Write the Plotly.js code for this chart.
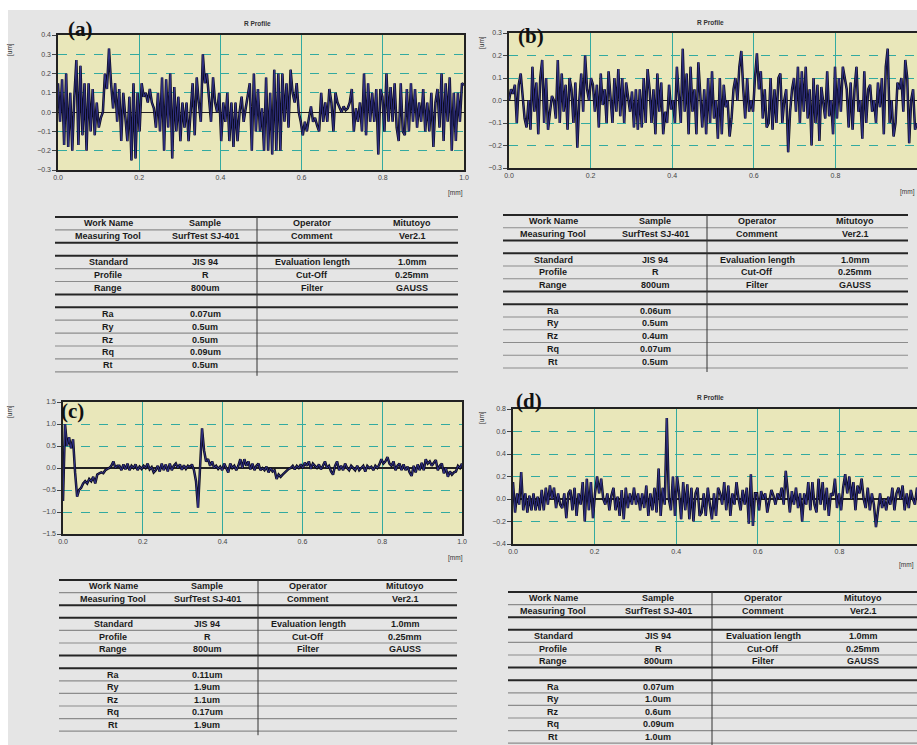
<!DOCTYPE html>
<html>
<head>
<meta charset="utf-8">
<script src="https://cdn.plot.ly/plotly-3.0.1.min.js"></script>
<style>html,body{margin:0;padding:0;background:#fff;}#chart{width:917px;height:745px;}</style>
</head>
<body>
<div id="chart"></div>
<script>
// ---------------- DATA ----------------
const EVAL_LENGTH = 1.0; // mm
const xTickVals = [0, 0.2, 0.4, 0.6, 0.8, 1.0];

const profileA = [0.15,-0.05,0.17,-0.17,0.2,-0.18,0.1,-0.2,0.08,0.27,-0.17,0.24,-0.12,0.15,-0.2,0.15,-0.1,0.12,-0.12,0.05,-0.08,
-0.03,0.0,0.2,0.12,0.33,0.15,0.02,0.15,-0.05,0.12,-0.15,0.1,-0.05,-0.15,0.08,-0.25,0.15,-0.24,0.1,-0.1,
0.15,0.08,0.1,0.05,0.12,0.05,0.02,-0.08,0.1,-0.1,0.18,-0.2,0.17,-0.08,0.2,-0.24,0.13,-0.1,
0.08,-0.15,0.05,-0.08,0.05,-0.15,0.0,0.15,-0.12,0.18,0.05,-0.05,0.3,0.15,0.2,0.05,-0.05,0.18,0.05,0.0,
0.1,-0.15,0.05,-0.05,0.1,-0.15,0.05,-0.18,0.05,-0.15,0.0,0.08,-0.05,0.02,0.08,
0.15,-0.2,0.2,-0.1,0.12,-0.1,0.02,-0.2,0.18,-0.2,0.1,-0.22,0.22,-0.2,0.2,-0.2,0.2,-0.05,0.15,-0.08,
0.22,0.1,0.05,0.15,0.0,-0.05,-0.12,-0.05,-0.1,-0.03,
0.03,-0.05,-0.03,-0.07,-0.1,0.1,-0.05,0.05,-0.05,0.12,
0.05,-0.1,0.1,0.05,0.02,0.0,0.03,0.01,0.02,0.05,0.12,-0.1,0.02,
-0.05,0.05,-0.1,0.2,-0.12,0.15,-0.05,0.1,-0.05,0.12,-0.22,0.12,0.08,-0.1,0.2,-0.05,0.13,
-0.05,0.15,-0.08,-0.15,0.15,-0.1,-0.12,0.12,-0.1,0.15,-0.05,0.12,-0.08,0.05,-0.05,0.12,
-0.1,0.05,-0.1,0.1,-0.18,0.05,0.12,-0.08,0.2,-0.15,0.15,-0.05,0.18,-0.2,0.1,-0.15,0.1,-0.05,0.15,0.14];

const profileB = [0.0,0.05,0.03,0.07,-0.1,0.07,0.12,0.0,-0.08,-0.12,0.0,-0.13,0.15,-0.05,0.08,-0.15,0.1,0.18,-0.1,0.1,-0.13,
-0.05,0.02,0.0,-0.08,0.18,-0.1,0.12,-0.05,0.07,-0.13,0.1,0.05,-0.1,0.08,-0.21,0.0,
0.12,-0.05,0.2,0.05,0.0,0.1,0.07,-0.05,0.07,-0.12,0.12,-0.02,0.05,-0.1,0.13,0.0,
-0.1,0.1,-0.05,0.14,-0.07,0.1,-0.1,0.08,0.0,-0.05,0.04,-0.12,0.05,-0.13,
0.05,-0.12,0.1,-0.1,0.14,0.05,-0.1,0.05,-0.15,0.12,-0.05,0.08,-0.15,
-0.05,-0.1,0.07,-0.04,0.0,-0.1,0.15,0.02,-0.1,0.23,-0.05,0.12,-0.15,0.15,-0.05,0.05,-0.15,0.17,0.0,-0.12,0.05,
-0.15,0.1,-0.1,0.13,-0.08,0.0,-0.17,0.1,-0.15,0.07,-0.03,0.0,-0.16,-0.08,0.05,0.1,
0.0,0.15,0.22,0.05,-0.08,0.1,-0.05,0.0,-0.05,0.1,0.21,0.05,0.13,-0.08,0.05,-0.12,-0.1,0.1,-0.13,0.05,-0.1,
0.1,0.12,-0.1,0.0,0.05,-0.23,-0.05,0.05,0.1,-0.05,0.15,-0.1,0.13,-0.05,0.15,-0.08,0.05,-0.2,
0.1,-0.1,0.07,-0.18,0.06,0.0,-0.08,0.13,-0.07,0.0,-0.15,0.15,-0.08,0.1,-0.05,
0.15,0.1,0.05,-0.12,0.08,-0.13,0.05,0.15,-0.05,0.0,-0.17,0.13,-0.1,0.05,0.07,
-0.05,0.0,-0.1,0.08,-0.03,0.1,-0.15,0.15,0.23,-0.1,0.0,-0.16,-0.1,0.08,0.05,0.1,-0.05,0.18,0.1,-0.19,0.0,0.05,-0.13,-0.1];

const profileC = [-0.75,1.0,0.5,0.7,0.45,0.65,-0.1,-0.65,-0.5,-0.45,-0.35,-0.3,-0.35,-0.25,-0.3,-0.2,-0.35,-0.15,-0.12,-0.1,-0.12,-0.05,-0.02,0.0,0.05,0.15,0.0,0.05,
0.05,-0.05,0.08,-0.03,0.1,-0.05,0.05,0.0,0.08,-0.05,0.03,-0.02,0.05,0.0,0.1,-0.03,0.02,-0.1,-0.05,0.05,-0.08,0.1,-0.05,0.08,-0.08,0.1,-0.05,0.05,0.1,0.0,0.08,-0.04,0.06,-0.02,0.05,0.02,0.08,-0.05,
-0.3,-0.9,0.0,0.9,0.4,
0.15,0.2,0.05,0.15,0.0,0.05,-0.02,0.03,-0.05,0.1,0.0,-0.1,0.1,0.0,0.05,-0.05,0.05,0.2,0.0,0.2,0.05,0.15,-0.03,0.1,-0.05,0.05,0.1,-0.05,0.0,-0.05,0.03,-0.1,0.0,-0.08,-0.05,-0.25,-0.15,-0.2,-0.15,-0.1,-0.05,-0.02,0.0,0.05,-0.03,0.05,0.0,
0.08,0.0,0.12,0.05,0.15,-0.02,0.1,0.05,0.0,0.08,-0.03,0.05,0.15,0.0,0.05,-0.08,-0.15,0.05,0.15,-0.05,0.05,-0.05,0.1,0.0,-0.05,0.05,0.0,-0.05,0.05,-0.05,0.0,0.05,-0.08,0.05,0.0,0.03,-0.05,0.05,0.0,0.08,
0.2,0.1,0.15,0.25,0.1,0.05,0.15,-0.05,0.05,0.1,-0.05,0.08,-0.05,0.03,-0.1,-0.18,0.05,-0.1,0.08,-0.05,0.12,-0.05,0.2,0.1,0.15,0.05,0.12,0.18,-0.05,0.05,0.1,-0.12,0.0,-0.2,-0.08,-0.15,-0.1,-0.08,0.05,0.0,0.1];

const profileD = [0.15,-0.12,0.05,-0.05,0.24,-0.1,0.05,-0.12,0.03,-0.1,0.05,-0.1,0.02,-0.1,0.08,-0.1,0.1,-0.05,0.12,0.0,
0.1,-0.08,0.05,-0.05,-0.08,0.05,-0.17,0.05,0.08,-0.1,0.1,-0.15,0.05,-0.05,0.15,-0.2,0.18,-0.1,0.15,-0.17,
0.05,0.2,0.05,0.18,0.0,-0.05,0.05,-0.1,0.03,0.1,-0.1,0.02,-0.15,0.08,-0.18,0.1,-0.08,0.05,-0.05,0.1,
-0.05,0.05,-0.1,0.05,-0.08,0.12,-0.15,0.05,-0.1,0.1,-0.12,0.27,-0.15,0.1,-0.05,0.72,0.0,
-0.1,0.2,-0.15,0.2,0.05,-0.18,0.15,-0.1,0.13,-0.18,0.1,-0.2,0.05,0.1,-0.15,-0.12,
0.05,-0.15,0.1,-0.05,-0.18,0.05,-0.15,0.1,0.05,-0.05,0.15,-0.1,0.12,-0.15,0.05,-0.05,0.15,0.0,-0.1,0.08,-0.05,0.1,-0.22,0.22,-0.24,0.05,
0.05,-0.1,0.07,0.0,0.05,-0.12,0.0,0.08,0.03,-0.05,0.05,0.0,0.1,-0.05,0.25,0.05,-0.12,0.07,-0.05,0.1,-0.08,0.05,-0.2,
0.05,-0.05,0.15,-0.1,0.15,-0.05,-0.12,0.18,-0.05,0.15,-0.1,0.1,-0.15,0.05,0.03,0.18,-0.08,0.05,-0.1,0.1,
0.22,0.05,0.2,0.0,0.15,-0.1,0.12,0.05,0.18,0.0,-0.08,0.1,-0.1,0.05,-0.05,-0.25,-0.1,0.05,-0.08,0.0,-0.1,0.02,-0.05,0.1,-0.1,0.05,0.1,0.0,0.12,-0.1,0.05,-0.08,0.08,0.0,-0.05,0.1,-0.03,0.05];

const panelLabels = ['(a)', '(b)', '(c)', '(d)'];
const chartTitle = 'R Profile';
const yUnit = '[um]';
const xUnit = '[mm]';

const headerRows = [['Work Name','Sample','Operator','Mitutoyo'],['Measuring Tool','SurfTest SJ-401','Comment','Ver2.1']];
const conditionRows = [['Standard','JIS 94','Evaluation length','1.0mm'],['Profile','R','Cut-Off','0.25mm'],['Range','800um','Filter','GAUSS']];
const paramNames = ['Ra','Ry','Rz','Rq','Rt'];
const paramA = ['0.07um','0.5um','0.5um','0.09um','0.5um'];
const paramB = ['0.06um','0.5um','0.4um','0.07um','0.5um'];
const paramC = ['0.11um','1.9um','1.1um','0.17um','1.9um'];
const paramD = ['0.07um','1.0um','0.6um','0.09um','1.0um'];

// ---------------- LAYOUT HELPERS ----------------
const W = 917, H = 745;
const px = v => v / W;
const py = v => 1 - v / H;

function xs(arr){ return arr.map((_, i) => i * EVAL_LENGTH / (arr.length - 1)); }

const traces = [];
const profiles = [profileA, profileB, profileC, profileD];
profiles.forEach((p, k) => {
  const xa = k === 0 ? 'x' : 'x' + (k + 1);
  const ya = k === 0 ? 'y' : 'y' + (k + 1);
  traces.push({x: xs(p), y: p, xaxis: xa, yaxis: ya, type: 'scatter', mode: 'lines',
    line: {color: '#0b0b1e', width: 2.5}, hoverinfo: 'skip'});
  traces.push({x: xs(p), y: p, xaxis: xa, yaxis: ya, type: 'scatter', mode: 'lines',
    line: {color: '#3a3aa0', width: 0.8}, hoverinfo: 'skip'});
});

const tickFont = {family: 'Arial, Liberation Sans', size: 7, color: '#444'};
function xAxis(l, r, anchor, range){
  return {domain: [px(l), r >= W ? 1 : px(r)], anchor: anchor, range: range, tickvals: xTickVals,
    tickformat: '.1f', showgrid: true, gridcolor: '#33aaa0', gridwidth: 1, griddash: 'solid',
    showline: true, mirror: true, linecolor: '#222', linewidth: 1.6, ticks: '', zeroline: false,
    tickfont: tickFont, fixedrange: true, layer: 'below traces'};
}
function yAxis(top, bottom, anchor, range, dtick){
  return {domain: [py(bottom), py(top)], anchor: anchor, range: range, dtick: dtick, tick0: 0,
    tickformat: '.1f', showgrid: true, gridcolor: '#33aaa0', gridwidth: 1, griddash: 'dash',
    showline: true, mirror: true, linecolor: '#222', linewidth: 1.6, ticks: 'outside', ticklen: 4,
    tickcolor: '#444', zeroline: true, zerolinecolor: '#222', zerolinewidth: 1.2,
    tickfont: tickFont, fixedrange: true};
}

const annotations = [];
const shapes = [];
function ann(x, y, text, opts){
  annotations.push(Object.assign({xref: 'paper', yref: 'paper', x: px(x), y: py(y), text: text,
    showarrow: false, xanchor: 'center', yanchor: 'middle',
    font: {family: 'Arial, Liberation Sans', size: 7, color: '#333'}}, opts || {}));
}

// panel decorations
const panelDeco = [
  {label: [80, 29], title: [257, 24], um: [10, 50], mm: [455, 193]},
  {label: [531, 36], title: [710, 22], um: [482, 43], mm: [907, 192]},
  {label: [72, 411], title: null, um: [10, 412], mm: [455, 558]},
  {label: [529, 401], title: [710, 397], um: [482, 418], mm: [916, 565]}
];
panelDeco.forEach((d, k) => {
  ann(d.label[0], d.label[1], '<b>' + panelLabels[k] + '</b>',
    {font: {family: 'Liberation Serif, Times New Roman, serif', size: 21, color: '#111'}});
  if (d.title) ann(d.title[0], d.title[1], '<b>' + chartTitle + '</b>', {font: {family: 'Arial, Liberation Sans', size: 6.5, color: '#333'}});
  ann(d.um[0], d.um[1], yUnit, {textangle: -90, font: {family: 'Arial, Liberation Sans', size: 6.5, color: '#333'}});
  ann(d.mm[0], d.mm[1], xUnit, {xanchor: k === 3 ? 'right' : 'center', font: {family: 'Arial, Liberation Sans', size: 6.5, color: '#333'}});
});

// tables
const tableCfg = [
  {left: 55, right: 458, top: 217, pitch: 12.9, cols: [108, 205, 312, 412], vx: 257, params: paramA},
  {left: 503, right: 908, top: 215, pitch: 12.75, cols: [553, 655, 757, 855], vx: 707, params: paramB},
  {left: 59, right: 457, top: 580, pitch: 12.6, cols: [113, 207, 308, 405], vx: 258, params: paramC},
  {left: 508, right: 917, top: 592, pitch: 12.6, cols: [553, 658, 763, 863], vx: 712, params: paramD}
];
const tFont = {family: 'Arial, Liberation Sans', size: 9, color: '#1a1a1a', weight: 'bold'};
function hline(x0, x1, y, thick){
  shapes.push({type: 'line', xref: 'paper', yref: 'paper', x0: px(x0), x1: px(x1), y0: py(y), y1: py(y),
    line: {color: thick ? '#262626' : '#8c8c8c', width: thick ? 2 : 1.2}});
}
tableCfg.forEach(t => {
  const p = t.pitch, T = t.top;
  const thick = [0, 2, 3, 6, 7];
  for (let i = 0; i <= 12; i++) {
    if (i === 1 || i === 4 || i === 5 || i >= 8 || thick.includes(i)) hline(t.left, t.right, T + i * p, thick.includes(i));
  }
  shapes.push({type: 'line', xref: 'paper', yref: 'paper', x0: px(t.vx), x1: px(t.vx), y0: py(T), y1: py(T + 12 * p + 4),
    line: {color: '#333', width: 1}});
  headerRows.forEach((row, r) => row.forEach((txt, c) => ann(t.cols[c], T + (r + 0.5) * p, txt, {font: tFont})));
  conditionRows.forEach((row, r) => row.forEach((txt, c) => ann(t.cols[c], T + (3 + r + 0.5) * p, txt, {font: tFont})));
  paramNames.forEach((nm, r) => {
    ann(t.cols[0], T + (7 + r + 0.5) * p, nm, {font: tFont});
    ann(t.cols[1], T + (7 + r + 0.5) * p, t.params[r], {font: tFont});
  });
});

// white page margins of the scanned figure
shapes.push({type: 'rect', xref: 'paper', yref: 'paper', x0: 0, x1: 1, y0: py(10), y1: 1, fillcolor: '#ffffff', line: {width: 0}, layer: 'below'});
shapes.push({type: 'rect', xref: 'paper', yref: 'paper', x0: 0, x1: px(8), y0: 0, y1: 1, fillcolor: '#ffffff', line: {width: 0}, layer: 'below'});

const layout = {
  width: W, height: H, margin: {l: 0, r: 0, t: 0, b: 0},
  paper_bgcolor: '#e5e5e5', plot_bgcolor: '#e9e7ba', showlegend: false,
  xaxis: xAxis(58, 464, 'y', [0, 1]),
  yaxis: yAxis(35, 170, 'x', [-0.3, 0.4], 0.1),
  xaxis2: xAxis(509, W, 'y2', [0, 1]),
  yaxis2: yAxis(33, 168, 'x2', [-0.3, 0.3], 0.1),
  xaxis3: xAxis(63, 462, 'y3', [0, 1]),
  yaxis3: yAxis(402, 534, 'x3', [-1.5, 1.5], 0.5),
  xaxis4: xAxis(513, W, 'y4', [0, 0.99]),
  yaxis4: yAxis(409, 544, 'x4', [-0.4, 0.8], 0.2),
  annotations: annotations,
  shapes: shapes
};

Plotly.newPlot('chart', traces, layout, {staticPlot: true, displayModeBar: false});
</script>
</body>
</html>
